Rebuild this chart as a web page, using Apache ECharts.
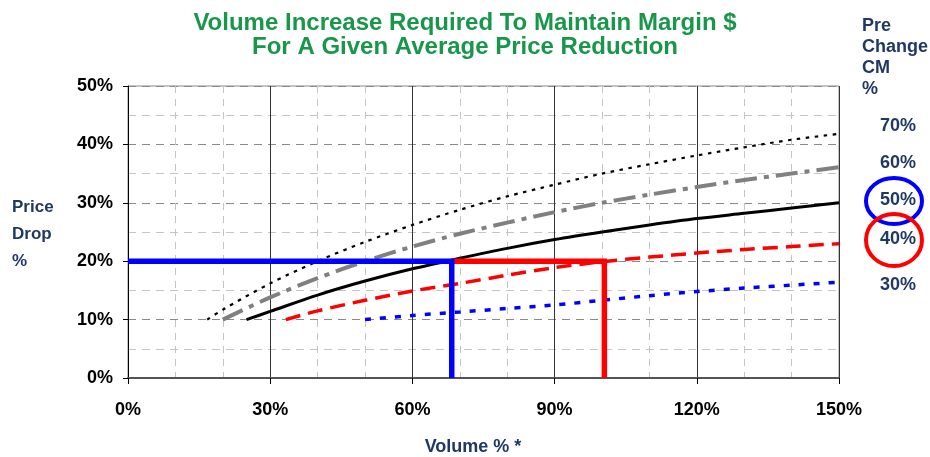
<!DOCTYPE html>
<html>
<head>
<meta charset="utf-8">
<script src="https://cdn.jsdelivr.net/npm/echarts@6/dist/echarts.min.js"></script>
<style>
  html, body { margin: 0; padding: 0; background: #fff; }
  #main { width: 930px; height: 457px; }
</style>
</head>
<body>
<div id="main"></div>
<script>
// curves: [volume %, price drop %]
var cm70 = [[16.7, 10], [20, 11.7], [30, 16.2], [40, 20], [50, 23.3], [60, 26.2], [70, 28.8],
  [80, 31.1], [90, 33.1], [100, 35], [110, 36.6], [120, 38.1], [130, 39.5], [140, 40.8], [150, 41.8]];
var cm60 = [[20, 10], [30, 13.8], [40, 17.1], [50, 20], [60, 22.5], [70, 24.7], [80, 26.6],
  [90, 28.4], [100, 30], [110, 31.4], [120, 32.7], [130, 33.9], [140, 35], [150, 36.1]];
var cm50 = [[25, 10], [30, 11.4], [40, 14.2], [50, 16.6], [60, 18.7], [70, 20.5], [80, 22.2],
  [90, 23.7], [100, 25], [110, 26.2], [120, 27.3], [130, 28.2], [140, 29.1], [150, 30]];
var cm40 = [[33.3, 10], [40, 11.5], [50, 13.3], [60, 14.9], [70, 16.2], [80, 17.6], [90, 18.9],
  [100, 19.9], [110, 20.7], [120, 21.4], [130, 22], [140, 22.5], [150, 23]];
var cm30 = [[50, 10], [60, 10.7], [70, 11.3], [80, 11.9], [90, 12.5], [100, 13.3], [110, 14.1],
  [120, 14.8], [130, 15.4], [140, 15.9], [150, 16.4]];

// 20% price drop lookups
var blueRef = [[0, 20], [68.3, 20], [68.3, 0]];
var redRef = [[68.3, 20], [100.5, 20], [100.5, 0]];

var legendLabels = ['70%', '60%', '50%', '40%', '30%'];

var chartDom = document.getElementById('main');
var myChart = echarts.init(chartDom);
var option;

var navy = '#203864';
var font = 'Liberation Sans, Arial, sans-serif';

function curve(data, color, width, dash) {
  return {
    type: 'line',
    data: data,
    smooth: 0.3,
    symbol: 'none',
    silent: true,
    lineStyle: { color: color, width: width, type: dash, cap: 'butt' }
  };
}

function refLine(data, color) {
  return {
    type: 'line',
    data: data,
    symbol: 'none',
    silent: true,
    z: 5,
    lineStyle: { color: color, width: 5.5, cap: 'butt', join: 'miter' }
  };
}

var legendY = [126, 163, 200, 239, 285];
var graphics = [
  {
    type: 'text', left: 'center', top: 11,
    style: {
      text: 'Volume Increase Required To Maintain Margin $\nFor A Given Average Price Reduction',
      font: 'bold 24px ' + font, fill: '#18974a', textAlign: 'center', lineHeight: 24
    }
  },
  {
    type: 'text', x: 12, y: 194,
    style: { text: 'Price\nDrop\n%', font: 'bold 17px ' + font, fill: navy, lineHeight: 27 }
  },
  {
    type: 'text', x: 473, y: 447,
    style: { text: 'Volume % *', font: 'bold 18px ' + font, fill: navy, textAlign: 'center', textVerticalAlign: 'middle' }
  },
  {
    type: 'text', x: 862, y: 16,
    style: { text: 'Pre\nChange\nCM\n%', font: 'bold 18px ' + font, fill: navy, lineHeight: 21 }
  }
];
legendLabels.forEach(function (t, i) {
  graphics.push({
    type: 'text', x: 880, y: legendY[i],
    style: { text: t, font: 'bold 18px ' + font, fill: navy, textVerticalAlign: 'middle' }
  });
});
graphics.push({
  type: 'ellipse', shape: { cx: 894, cy: 201, rx: 28, ry: 23 },
  style: { fill: 'none', stroke: '#0000ff', lineWidth: 4 }
});
graphics.push({
  type: 'ellipse', shape: { cx: 894, cy: 240, rx: 28, ry: 26 },
  style: { fill: 'none', stroke: '#ff0000', lineWidth: 4 }
});

option = {
  animation: false,
  backgroundColor: '#fff',
  grid: {
    left: 128, right: 91, top: 86, bottom: 79,
    show: true, borderColor: '#888', borderWidth: 1, backgroundColor: 'transparent'
  },
  xAxis: {
    type: 'value',
    min: 0, max: 150, interval: 30,
    axisLine: { show: true, lineStyle: { color: '#555', width: 2 } },
    axisTick: { show: true, length: 6, inside: false, lineStyle: { color: '#000' } },
    axisLabel: {
      formatter: '{value}%', margin: 23,
      color: '#000', fontWeight: 'bold', fontSize: 18, fontFamily: font
    },
    splitLine: { show: true, lineStyle: { color: '#333', width: 1 } },
    minorTick: { show: false, splitNumber: 3 },
    minorSplitLine: { show: true, lineStyle: { color: '#c4c4c4', type: [7, 6] } }
  },
  yAxis: {
    type: 'value',
    min: 0, max: 50, interval: 10,
    axisLine: { show: true, lineStyle: { color: '#000', width: 1 } },
    axisTick: { show: true, length: 5, lineStyle: { color: '#000' } },
    axisLabel: {
      formatter: '{value}%', margin: 15,
      color: '#000', fontWeight: 'bold', fontSize: 18, fontFamily: font
    },
    splitLine: { show: true, lineStyle: { color: '#8a8a8a', type: [8, 6] } },
    minorTick: { show: false, splitNumber: 2 },
    minorSplitLine: { show: true, lineStyle: { color: '#c4c4c4', type: [8, 6] } }
  },
  graphic: graphics,
  series: [
    curve(cm30, '#0000ff', 3.5, [6, 9]),
    curve(cm40, '#ff0000', 3.5, [15, 8]),
    curve(cm50, '#000000', 3, 'solid'),
    curve(cm60, '#808080', 4, [22, 7, 5, 7]),
    curve(cm70, '#000000', 2.2, [3.5, 5.5]),
    refLine(redRef, '#ff0000'),
    refLine(blueRef, '#0000ff')
  ]
};

option && myChart.setOption(option);
</script>
</body>
</html>
